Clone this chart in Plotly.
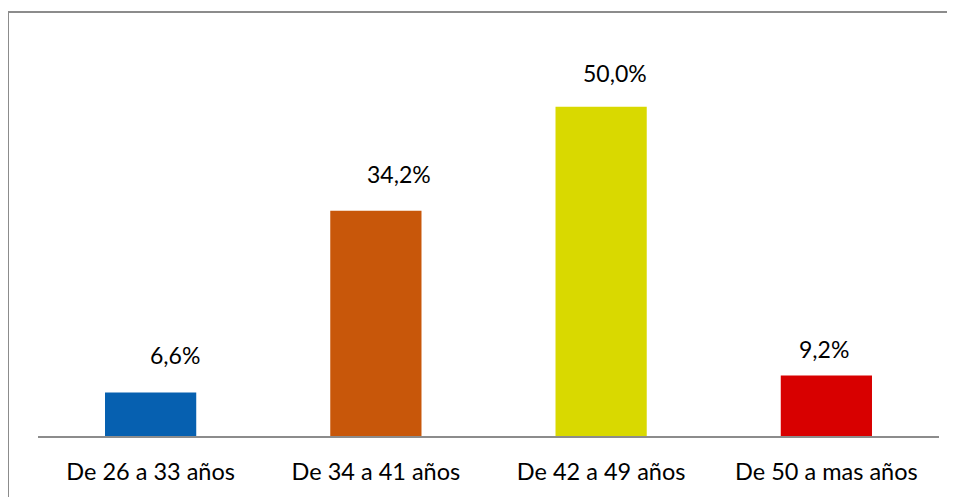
import plotly.graph_objects as go

categories = ["De 26 a 33 años", "De 34 a 41 años", "De 42 a 49 años", "De 50 a mas años"]
values = [6.6, 34.2, 50.0, 9.2]
labels = ["6,6%", "34,2%", "50,0%", "9,2%"]
colors = ["#0660b0", "#c8570a", "#d9d900", "#d80000"]
label_xshift = [24, 23, 14, -2]
label_yshift = [38, 37, 34, 26]

FONT = "Lato, Carlito, sans-serif"

fig = go.Figure()
fig.add_trace(go.Bar(x=categories, y=values, marker=dict(color=colors, line=dict(width=0)),
                     width=0.405, hoverinfo="skip"))

for c, v, t, dx, dy in zip(categories, values, labels, label_xshift, label_yshift):
    fig.add_annotation(x=c, y=v, text=t, showarrow=False, yshift=dy, xshift=dx,
                       font=dict(family=FONT, size=23, color="#000"))

fig.add_shape(type="rect", xref="paper", yref="paper", x0=-0.0333, x1=1.05, y0=-0.3, y1=1.0734,
              line=dict(color="#8c8c8c", width=2), fillcolor="rgba(0,0,0,0)", layer="below")

fig.update_layout(
    width=955, height=497,
    margin=dict(l=30, r=24, t=33, b=69),
    paper_bgcolor="white", plot_bgcolor="white",
    showlegend=False,
    font=dict(family=FONT, size=23, color="#000"),
    xaxis=dict(showline=True, linecolor="#8c8c8c", linewidth=2, ticks="outside", ticklen=0,
               tickfont=dict(size=23.5), ticklabelstandoff=14, showgrid=False),
    yaxis=dict(range=[0, 60], visible=False, showgrid=False),
)
fig.write_html("out.html")
